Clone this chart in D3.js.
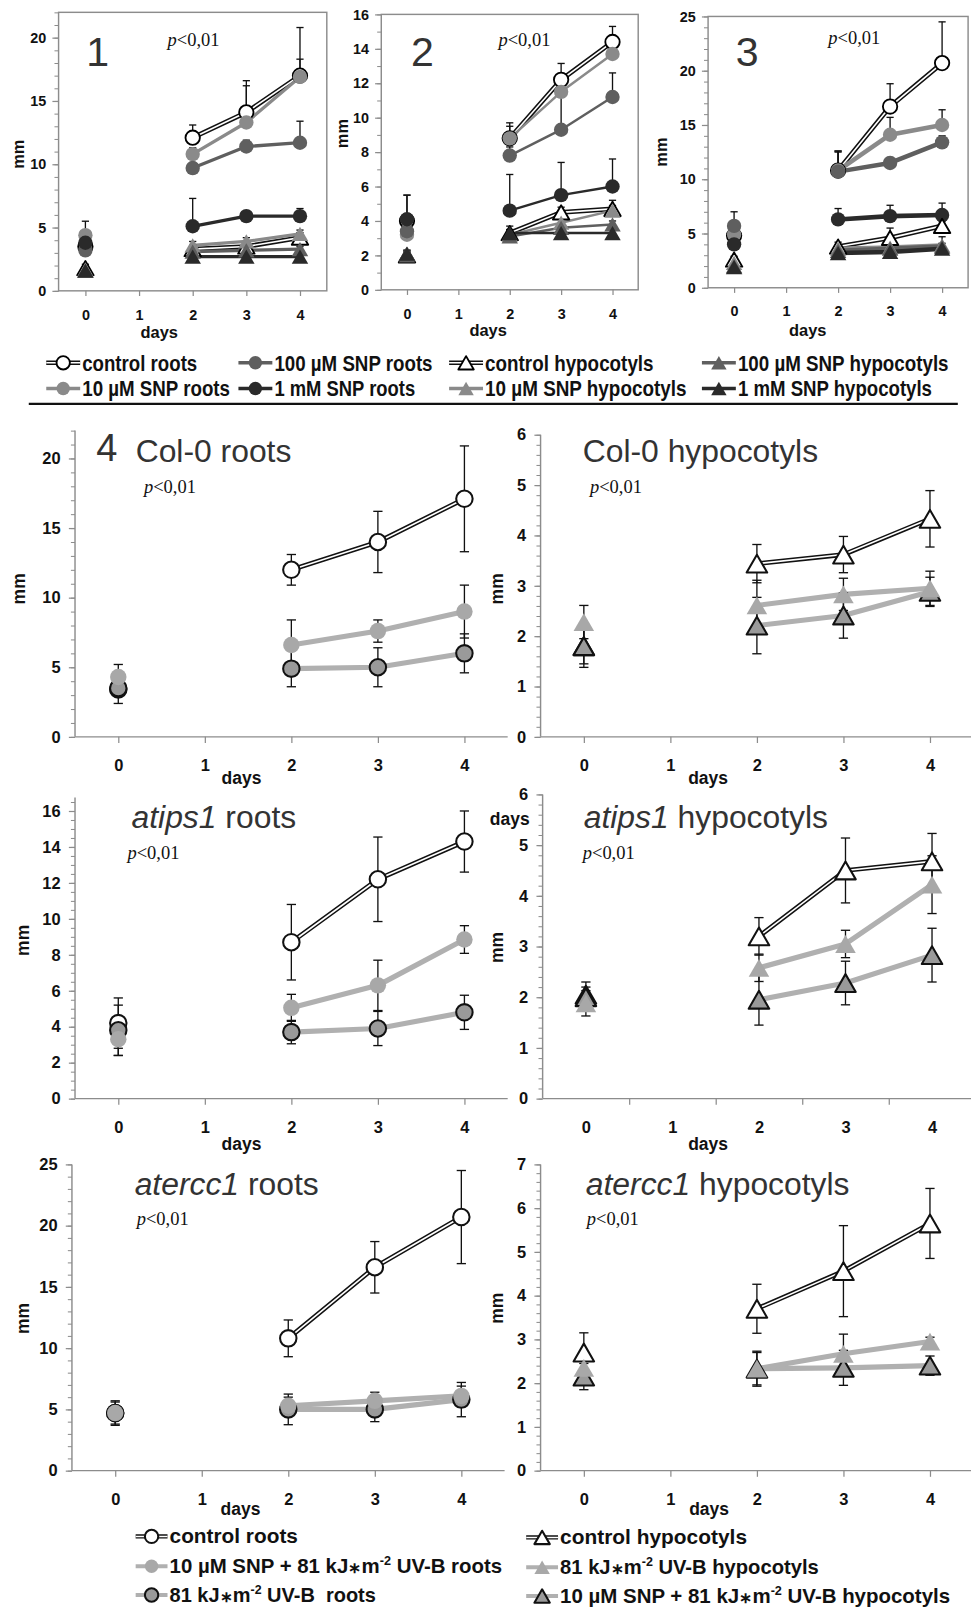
<!DOCTYPE html>
<html><head><meta charset="utf-8">
<script src="https://cdn.jsdelivr.net/npm/d3@7"></script>
<style>body{margin:0;background:#fff} svg{display:block}</style>
</head><body>
<svg id="c" width="971" height="1610"></svg>
<script>
// ---------------- DATA ----------------
const dayTicks = [0, 1, 2, 3, 4];
const seriesTop = ["control roots", "10 µM SNP roots", "100 µM SNP roots", "1 mM SNP roots",
  "control hypocotyls", "10 µM SNP hypocotyls", "100 µM SNP hypocotyls", "1 mM SNP hypocotyls"];
const yTicksP1 = [0, 5, 10, 15, 20];
const yTicksP2 = [0, 2, 4, 6, 8, 10, 12, 14, 16];
const yTicksP3 = [0, 5, 10, 15, 20, 25];

const p1Values = [
  [3.5, null, 12.1, 14.1, 17.0],
  [4.4, null, 10.8, 13.3, 16.9],
  [3.2, null, 9.7, 11.4, 11.7],
  [3.8, null, 5.1, 5.9, 5.9],
  [1.8, null, 3.3, 3.5, 4.2],
  [1.7, null, 3.6, 3.9, 4.5],
  [1.6, null, 3.1, 3.2, 3.3],
  [1.6, null, 2.7, 2.7, 2.7]
];
const p1Errors = [
  [0.8, null, 1.0, 2.5, 3.8],
  [1.1, null, 0.5, 2.9, 1.4],
  [0.4, null, 0.4, 0.5, 1.7],
  [0.5, null, 2.2, 0.3, 0.6],
  [0.3, null, 0.3, 0.3, 0.4],
  [0.2, null, 0.3, 0.3, 0.3],
  [0.2, null, 0.2, 0.2, 0.2],
  [0.2, null, 0.2, 0.2, 0.2]
];
const p2Values = [
  [4.0, null, 8.8, 12.2, 14.4],
  [3.2, null, 8.8, 11.5, 13.7],
  [3.4, null, 7.8, 9.3, 11.2],
  [4.1, null, 4.6, 5.5, 6.0],
  [2.0, null, 3.3, 4.5, 4.7],
  [2.1, null, 3.2, 3.9, 4.6],
  [2.0, null, 3.1, 3.6, 3.8],
  [2.1, null, 3.3, 3.3, 3.3]
];
const p2Errors = [
  [1.5, null, 0.9, 0.95, 0.9],
  [1.1, null, 0.7, 0.6, 0.4],
  [0.5, null, 0.5, 1.9, 1.4],
  [1.4, null, 2.1, 1.9, 1.6],
  [0.2, null, 0.4, 0.3, 0.5],
  [0.2, null, 0.3, 0.3, 0.3],
  [0.2, null, 0.2, 0.2, 0.2],
  [0.2, null, 0.2, 0.2, 0.2]
];
const p3Values = [
  [4.8, null, 10.8, 16.7, 20.7],
  [4.9, null, 10.8, 14.1, 15.0],
  [5.7, null, 10.7, 11.5, 13.4],
  [4.0, null, 6.3, 6.6, 6.7],
  [2.6, null, 3.8, 4.6, 5.7],
  [2.3, null, 3.6, 3.7, 3.9],
  [2.0, null, 3.4, 3.6, 3.8],
  [1.9, null, 3.2, 3.3, 3.6]
];
const p3Errors = [
  [1.0, null, 1.8, 2.1, 3.8],
  [0.8, null, 1.7, 1.6, 1.4],
  [1.3, null, 1.9, 0.5, 0.6],
  [0.6, null, 1.0, 1.0, 1.1],
  [0.3, null, 0.4, 0.9, 0.4],
  [0.2, null, 0.3, 0.3, 0.8],
  [0.2, null, 0.3, 0.3, 0.3],
  [0.2, null, 0.2, 0.2, 0.2]
];

const seriesRoots = ["control roots", "10 µM SNP + 81 kJ*m-2 UV-B roots", "81 kJ*m-2 UV-B  roots"];
const seriesHyp = ["control hypocotyls", "81 kJ*m-2 UV-B hypocotyls", "10 µM SNP + 81 kJ*m-2 UV-B hypocotyls"];
const yTicksRoots22 = [0, 5, 10, 15, 20];
const yTicksHyp6 = [0, 1, 2, 3, 4, 5, 6];
const yTicksRoots16 = [0, 2, 4, 6, 8, 10, 12, 14, 16];
const yTicksRoots25 = [0, 5, 10, 15, 20, 25];
const yTicksHyp7 = [0, 1, 2, 3, 4, 5, 6, 7];

const colRootsValues = [
  [3.4, null, 12.0, 14.0, 17.1],
  [4.3, null, 6.6, 7.6, 9.0],
  [3.5, null, 4.9, 5.0, 6.0]
];
const colRootsErrors = [
  [1.0, null, 1.1, 2.2, 3.8],
  [0.9, null, 1.8, 0.8, 1.9],
  [0.5, null, 1.3, 1.4, 1.4]
];
const colHypValues = [
  [1.8, null, 3.44, 3.62, 4.33],
  [2.28, null, 2.61, 2.83, 2.95],
  [1.8, null, 2.21, 2.41, 2.88]
];
const colHypErrors = [
  [0.35, null, 0.38, 0.36, 0.56],
  [0.33, null, 0.5, 0.32, 0.34],
  [0.42, null, 0.56, 0.45, 0.29]
];
const ipsRootsValues = [
  [4.2, null, 8.7, 12.2, 14.3],
  [3.3, null, 5.05, 6.3, 8.85],
  [3.8, null, 3.7, 3.9, 4.8]
];
const ipsRootsErrors = [
  [1.4, null, 2.1, 2.35, 1.7],
  [0.9, null, 0.75, 1.4, 0.77],
  [1.4, null, 0.65, 0.95, 0.95]
];
const ipsHypValues = [
  [2.05, null, 3.2, 4.5, 4.68],
  [1.88, null, 2.58, 3.05, 4.22],
  [2.0, null, 1.95, 2.28, 2.83]
];
const ipsHypErrors = [
  [0.25, null, 0.37, 0.64, 0.55],
  [0.25, null, 0.27, 0.27, 0.57],
  [0.2, null, 0.5, 0.43, 0.53]
];
const erccRootsValues = [
  [4.7, null, 10.8, 16.6, 20.7],
  [4.7, null, 5.3, 5.7, 6.1],
  [4.7, null, 5.0, 5.0, 5.8]
];
const erccRootsErrors = [
  [1.0, null, 1.5, 2.1, 3.8],
  [0.6, null, 0.7, 0.7, 0.8],
  [0.9, null, 1.25, 1.0, 1.4]
];
const erccHypValues = [
  [2.7, null, 3.7, 4.56, 5.65],
  [2.35, null, 2.33, 2.67, 2.95],
  [2.15, null, 2.33, 2.35, 2.4]
];
const erccHypErrors = [
  [0.45, null, 0.56, 1.04, 0.8],
  [0.3, null, 0.37, 0.45, 0.1],
  [0.3, null, 0.4, 0.4, 0.22]
];

// ---------------- RENDER ----------------
const svg = d3.select("#c");
const S = 1.0277;
const root = svg.append("g").attr("transform", `scale(${S})`);
const FONT = "'Liberation Sans', Arial, sans-serif";
const NARROW = "'Liberation Sans Narrow', 'Arial Narrow', 'Liberation Sans', sans-serif";
const SERIF = "'Liberation Serif', 'Times New Roman', serif";
const AX = "#8c8c8c";

function triPath(s) {
  const h = s * Math.sqrt(3) / 2;
  return `M0,${-h / 2}L${s / 2},${h / 2}L${-s / 2},${h / 2}Z`;
}
function drawMarker(g, st, cx, cy, size) {
  let m;
  if (st.shape === "circle") {
    m = g.append("circle").attr("cx", cx).attr("cy", cy).attr("r", size.r);
  } else {
    m = g.append("path").attr("d", triPath(size.t)).attr("transform", `translate(${cx},${cy})`);
  }
  m.attr("fill", st.fill).attr("stroke", st.stroke || "none").attr("stroke-width", st.sw || 0)
    .attr("stroke-linejoin", "round");
}
function drawLine(g, d, st, w) {
  if (st.line === "double") {
    g.append("path").attr("d", d).attr("fill", "none").attr("stroke", "#111").attr("stroke-width", 4.6);
    g.append("path").attr("d", d).attr("fill", "none").attr("stroke", "#fff").attr("stroke-width", 1.6);
  } else {
    g.append("path").attr("d", d).attr("fill", "none").attr("stroke", st.line).attr("stroke-width", w)
      .attr("stroke-linejoin", "round");
  }
}

const stylesTop = [
  { shape: "circle", fill: "#fff", stroke: "#000", sw: 1.8, line: "double" },
  { shape: "circle", fill: "#8a8a8a", line: "#8a8a8a" },
  { shape: "circle", fill: "#5f5f5f", line: "#5f5f5f" },
  { shape: "circle", fill: "#2a2a2a", line: "#2a2a2a" },
  { shape: "tri", fill: "#fff", stroke: "#000", sw: 1.8, line: "double" },
  { shape: "tri", fill: "#8a8a8a", line: "#8a8a8a" },
  { shape: "tri", fill: "#5f5f5f", line: "#5f5f5f" },
  { shape: "tri", fill: "#2a2a2a", line: "#2a2a2a" }
];
const stylesRoots = [
  { shape: "circle", fill: "#fff", stroke: "#111", sw: 2, line: "double" },
  { shape: "circle", fill: "#a8a8a8", line: "#b0b0b0" },
  { shape: "circle", fill: "#9a9a9a", stroke: "#111", sw: 2, line: "#b0b0b0" }
];
const stylesHyp = [
  { shape: "tri", fill: "#fff", stroke: "#111", sw: 2, line: "double" },
  { shape: "tri", fill: "#a8a8a8", line: "#b0b0b0" },
  { shape: "tri", fill: "#9a9a9a", stroke: "#111", sw: 2, line: "#b0b0b0" }
];

function drawPanel(p) {
  const o = p.opts;
  const x = d3.scaleLinear().domain([-0.5, 4.5]).range([p.left, p.right]);
  const y = d3.scaleLinear().domain([0, p.ymax]).range([p.bottom, p.top]);
  const g = root.append("g");

  if (o.box) {
    g.append("rect").attr("x", p.left).attr("y", p.top).attr("width", p.right - p.left)
      .attr("height", p.bottom - p.top).attr("fill", "none").attr("stroke", AX).attr("stroke-width", 1.4);
  } else {
    g.append("line").attr("x1", p.left).attr("x2", p.left).attr("y1", p.top).attr("y2", p.bottom)
      .attr("stroke", AX).attr("stroke-width", 1.4);
    g.append("line").attr("x1", p.left).attr("x2", p.right).attr("y1", p.bottom).attr("y2", p.bottom)
      .attr("stroke", AX).attr("stroke-width", 1.4);
  }
  const minorVals = d3.range(0, p.ymax + 1e-9, p.minor);
  const ym = g.append("g").attr("transform", `translate(${p.left},0)`)
    .call(d3.axisLeft(y).tickValues(minorVals).tickSize(4).tickSizeOuter(0).tickFormat(""));
  ym.select(".domain").remove();
  ym.selectAll("line").attr("stroke", AX).attr("stroke-width", 1);
  const ya = g.append("g").attr("transform", `translate(${p.left},0)`)
    .call(d3.axisLeft(y).tickValues(p.yticks).tickSize(6).tickSizeOuter(0).tickPadding(o.yPad)
      .tickFormat(d3.format("d")));
  ya.select(".domain").remove();
  ya.selectAll("line").attr("stroke", AX).attr("stroke-width", 1.2);
  ya.selectAll("text").attr("font-family", FONT).attr("font-weight", "bold")
    .attr("font-size", o.tickFont).attr("fill", "#111");
  const xa = g.append("g").attr("transform", `translate(0,${p.bottom})`)
    .call(d3.axisBottom(x).tickValues(dayTicks).tickSize(p.halfTicks ? 0 : o.xTickLen)
      .tickSizeOuter(0).tickPadding(p.halfTicks ? o.xPad + o.xTickLen : o.xPad).tickFormat(d3.format("d")));
  xa.select(".domain").remove();
  xa.selectAll("line").attr("stroke", AX).attr("stroke-width", 1.2);
  xa.selectAll("text").attr("font-family", FONT).attr("font-weight", "bold")
    .attr("font-size", o.tickFont).attr("fill", "#111");
  if (p.halfTicks) {
    const xh = g.append("g").attr("transform", `translate(0,${p.bottom})`)
      .call(d3.axisBottom(x).tickValues([0.5, 1.5, 2.5, 3.5]).tickSize(o.xTickLen).tickSizeOuter(0).tickFormat(""));
    xh.select(".domain").remove();
    xh.selectAll("line").attr("stroke", AX).attr("stroke-width", 1.2);
  }
  g.append("text").attr("transform", `translate(${p.mmX},${p.mmY}) rotate(-90)`)
    .attr("text-anchor", "middle").attr("dy", "0.35em").attr("font-family", FONT)
    .attr("font-weight", "bold").attr("font-size", o.labelFont).attr("fill", "#111").text("mm");
  g.append("text").attr("x", p.daysX).attr("y", p.daysY).attr("dy", "0.35em")
    .attr("text-anchor", "middle").attr("font-family", FONT).attr("font-weight", "bold")
    .attr("font-size", o.labelFont).attr("fill", "#111").text("days");
  if (p.num) {
    g.append("text").attr("x", p.numX).attr("y", p.numY).attr("text-anchor", "middle")
      .attr("font-family", FONT).attr("font-size", p.numSize).attr("fill", "#333").text(p.num);
  }
  if (p.title) {
    const t = g.append("text").attr("x", p.titleX).attr("y", p.titleY).attr("font-family", FONT)
      .attr("font-size", 31).attr("fill", "#333");
    p.title.forEach(part => t.append("tspan").attr("font-style", part.i ? "italic" : "normal").text(part.t));
  }
  const pt = g.append("text").attr("x", p.pX).attr("y", p.pY).attr("font-family", SERIF)
    .attr("font-size", 18).attr("fill", "#111");
  pt.append("tspan").attr("font-style", "italic").text("p");
  pt.append("tspan").text("<0,01");

  const lw = p.lineW || o.lineW;
  const line = d3.line().defined(d => d.v != null).x(d => x(d.day)).y(d => y(d.v));
  const order = p.order;
  order.forEach(i => {
    const pts = dayTicks.map((d, j) => ({ day: d, v: j >= 2 ? p.values[i][j] : null }));
    drawLine(g, line(pts), p.styles[i], lw);
  });
  const eg = g.append("g").attr("stroke", "#111").attr("stroke-width", 1.3);
  order.forEach(i => {
    dayTicks.forEach((d, j) => {
      const v = p.values[i][j], e = p.errors[i][j];
      if (v == null || e == null) return;
      const cx = x(d), cw = o.cap;
      const yu = y(v + e);
      eg.append("line").attr("x1", cx).attr("x2", cx).attr("y1", y(v)).attr("y2", yu);
      eg.append("line").attr("x1", cx - cw).attr("x2", cx + cw).attr("y1", yu).attr("y2", yu);
      if (o.both) {
        const yd = y(Math.max(0, v - e));
        eg.append("line").attr("x1", cx).attr("x2", cx).attr("y1", y(v)).attr("y2", yd);
        eg.append("line").attr("x1", cx - cw).attr("x2", cx + cw).attr("y1", yd).attr("y2", yd);
      }
    });
  });
  order.forEach(i => {
    dayTicks.forEach((d, j) => {
      const v = p.values[i][j];
      if (v == null) return;
      drawMarker(g, p.styles[i], x(d), y(v), o.size);
    });
  });
}

const topOpts = { box: true, yPad: 6, xPad: 13, xTickLen: 5, tickFont: 14, labelFont: 16, lineW: 3.4,
  cap: 3.5, both: false, size: { r: 7, t: 16 } };
const lowOpts = { box: false, yPad: 8, xPad: 16, xTickLen: 6, tickFont: 16, labelFont: 17, lineW: 5,
  cap: 4.5, both: true, size: { r: 8, t: 20 } };
const topOrder = [0, 1, 2, 3, 4, 5, 6, 7];
const lowOrder = [0, 2, 1];

const panels = [
  { left: 57, right: 318, top: 12, bottom: 283, ymax: 22, yticks: yTicksP1, minor: 1, values: p1Values, errors: p1Errors,
    styles: stylesTop, order: topOrder, opts: topOpts, lineW: 3.2, mmX: 18, mmY: 150, daysX: 155, daysY: 323,
    num: "1", numX: 95, numY: 64, numSize: 40, pX: 163, pY: 45 },
  { left: 371, right: 621, top: 14, bottom: 282, ymax: 16, yticks: yTicksP2, minor: 1, values: p2Values, errors: p2Errors,
    styles: stylesTop, order: topOrder, opts: topOpts, lineW: 2.4, mmX: 333, mmY: 130, daysX: 475, daysY: 321,
    num: "2", numX: 411, numY: 64, numSize: 40, pX: 485, pY: 45 },
  { left: 689, right: 942, top: 16, bottom: 280, ymax: 25, yticks: yTicksP3, minor: 1, values: p3Values, errors: p3Errors,
    styles: stylesTop, order: topOrder, opts: topOpts, lineW: 4.4, mmX: 643, mmY: 148, daysX: 786, daysY: 321,
    num: "3", numX: 727, numY: 64, numSize: 40, pX: 806, pY: 43 },

  { left: 73, right: 494, top: 419, bottom: 717, ymax: 22, yticks: yTicksRoots22, minor: 1, values: colRootsValues, errors: colRootsErrors,
    styles: stylesRoots, order: lowOrder, opts: lowOpts, mmX: 18, mmY: 573, daysX: 235, daysY: 757,
    num: "4", numX: 104, numY: 449, numSize: 37, title: [{ t: "Col-0 roots" }], titleX: 132, titleY: 450, pX: 140, pY: 480 },
  { left: 526, right: 947, top: 423, bottom: 717, ymax: 6, yticks: yTicksHyp6, minor: 0.2, values: colHypValues, errors: colHypErrors,
    styles: stylesHyp, order: lowOrder, opts: lowOpts, mmX: 483, mmY: 573, daysX: 689, daysY: 757,
    title: [{ t: "Col-0 hypocotyls" }], titleX: 567, titleY: 450, pX: 574, pY: 480 },
  { left: 73, right: 494, top: 776, bottom: 1069, ymax: 16.75, yticks: yTicksRoots16, minor: 0.5, values: ipsRootsValues, errors: ipsRootsErrors,
    styles: stylesRoots, order: lowOrder, opts: lowOpts, mmX: 22, mmY: 915, daysX: 235, daysY: 1113,
    title: [{ t: "atips1", i: true }, { t: " roots" }], titleX: 128, titleY: 806, pX: 124, pY: 836 },
  { left: 528, right: 949, top: 773, bottom: 1069, ymax: 6, yticks: yTicksHyp6, minor: 0.2, values: ipsHypValues, errors: ipsHypErrors,
    styles: stylesHyp, order: lowOrder, opts: lowOpts, mmX: 483, mmY: 922, daysX: 689, daysY: 1113, halfTicks: true,
    title: [{ t: "atips1", i: true }, { t: " hypocotyls" }], titleX: 568, titleY: 806, pX: 567, pY: 836 },
  { left: 70, right: 491, top: 1133, bottom: 1431, ymax: 25, yticks: yTicksRoots25, minor: 1, values: erccRootsValues, errors: erccRootsErrors,
    styles: stylesRoots, order: lowOrder, opts: lowOpts, mmX: 22, mmY: 1283, daysX: 234, daysY: 1468,
    title: [{ t: "atercc1", i: true }, { t: " roots" }], titleX: 131, titleY: 1163, pX: 133, pY: 1192 },
  { left: 526, right: 947, top: 1133, bottom: 1431, ymax: 7, yticks: yTicksHyp7, minor: 0.2, values: erccHypValues, errors: erccHypErrors,
    styles: stylesHyp, order: lowOrder, opts: lowOpts, mmX: 483, mmY: 1273, daysX: 690, daysY: 1468,
    title: [{ t: "atercc1", i: true }, { t: " hypocotyls" }], titleX: 570, titleY: 1163, pX: 571, pY: 1192 }
];
panels.forEach(drawPanel);

root.append("text").attr("x", 496).attr("y", 797).attr("dy", "0.35em").attr("text-anchor", "middle")
  .attr("font-family", FONT).attr("font-weight", "bold").attr("font-size", 17).attr("fill", "#111").text("days");

root.append("line").attr("x1", 28).attr("x2", 932).attr("y1", 393).attr("y2", 393)
  .attr("stroke", "#111").attr("stroke-width", 2.2);

// ---------------- LEGENDS ----------------
function labelParts(name) {
  const m = name.match(/^(.*kJ)\*m-2(.*)$/);
  if (!m) return [{ t: name }];
  return [{ t: m[1] }, { t: "∗", small: true }, { t: "m" }, { t: "-2", sup: true }, { t: m[2], after: true }];
}
function legendEntry(x0, x1, yc, st, size, lineW, name, tx, tw, fs) {
  const g = root.append("g");
  const d = `M${x0},${yc}L${x1},${yc}`;
  if (st.line === "double") {
    g.append("path").attr("d", d).attr("stroke", "#111").attr("stroke-width", 4.2);
    g.append("path").attr("d", d).attr("stroke", "#fff").attr("stroke-width", 1.4);
  } else {
    g.append("path").attr("d", d).attr("stroke", st.line).attr("stroke-width", lineW);
  }
  drawMarker(g, st, (x0 + x1) / 2, yc, size);
  const tg = root.append("g");
  const t = tg.append("text").attr("x", 0).attr("y", 0).attr("font-family", NARROW)
    .attr("font-weight", "bold").attr("font-size", fs).attr("fill", "#111").style("white-space", "pre");
  labelParts(name).forEach(p => {
    const s = t.append("tspan").text(p.t);
    if (p.small) s.attr("font-size", fs * 0.75);
    if (p.sup) s.attr("font-size", fs * 0.62).attr("dy", -fs * 0.42);
    if (p.after) s.attr("dy", fs * 0.42);
  });
  const w = t.node().getBBox().width;
  tg.attr("transform", `translate(${tx},${yc + fs * 0.36}) scale(${tw / w},1)`);
}

const topLegendX = [[45, 78, 80], [232, 265, 267], [437, 470, 472], [683, 716, 718]];
const topLegendW = [112, 154, 164, 205, 144, 137, 196, 189];
const topLegendCells = [
  [0, 0, 0], [2, 1, 0], [4, 2, 0], [6, 3, 0],
  [1, 0, 1], [3, 1, 1], [5, 2, 1], [7, 3, 1]
];
topLegendCells.forEach(([si, col, row], k) => {
  const [a, b, tx] = topLegendX[col];
  legendEntry(a, b, row === 0 ? 353 : 378, stylesTop[si], { r: 6.5, t: 15 }, 3.4, seriesTop[si], tx, topLegendW[k], 21);
});

const botRows = [1495, 1524, 1552];
const rootLegendW = [125, 324, 201];
const hypLegendW = [182, 252, 380];
seriesRoots.forEach((n, i) => {
  legendEntry(132, 163, botRows[i], stylesRoots[i], { r: 6.5, t: 15 }, 4, n, 165, rootLegendW[i], 19);
});
seriesHyp.forEach((n, i) => {
  legendEntry(512, 543, botRows[i] + 1, stylesHyp[i], { r: 6.5, t: 15 }, 4, n, 545, hypLegendW[i], 19);
});
</script>
</body></html>
